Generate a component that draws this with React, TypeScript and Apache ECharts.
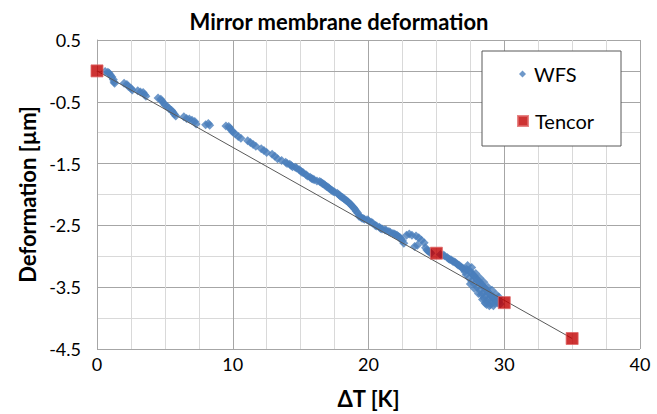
import React, { useEffect, useRef } from "react";
import * as echarts from "echarts";

const titleText = "Mirror membrane deformation";
const xName = "ΔT [K]";
const yName = "Deformation [µm]";

const wfsX = [
  0.6, 0.8, 0.9, 1.0, 1.1, 1.2, 1.25, 1.3, 2.0, 2.2, 2.3, 2.5, 2.6, 3.0, 3.2, 3.4, 3.5, 3.6,
  4.5, 4.7, 4.8, 4.9, 5.0, 5.2, 5.3, 5.5, 5.6, 5.7, 5.8, 6.4, 6.6, 6.8, 7.0, 7.2, 7.3,
  8.0, 8.2, 8.3, 9.5, 9.7, 9.8, 9.9, 10.0, 10.2, 10.4, 10.6, 11.1, 11.3, 11.5, 11.7,
  12.1, 12.3, 12.5, 12.9, 13.1, 13.3, 13.6, 13.9, 14.2, 14.4, 14.7, 15.0, 15.2, 15.4,
  15.7, 15.9, 16.2, 16.5, 16.7, 16.9, 17.1, 17.3, 17.5, 17.8, 18.0, 18.2, 18.4, 18.6,
  18.8, 19.0, 19.2, 19.3, 19.5, 19.7, 20.0, 20.3, 20.5, 20.8, 21.0, 21.3, 21.6, 21.9,
  22.1, 22.3, 22.5, 22.6, 22.8, 23.0, 23.2, 23.5, 23.7, 23.9, 24.1, 23.6, 23.4, 24.2,
  24.4, 24.6, 25.3, 25.6, 25.8, 26.0, 26.2, 26.4, 26.6, 26.8, 27.0, 27.1, 27.2, 27.3,
  27.5, 27.4, 27.6, 27.7, 27.8, 27.9, 28.0, 28.1, 28.2, 28.3, 28.4, 28.5, 28.6, 28.7,
  28.8, 28.9, 29.0, 29.1, 29.2, 29.3, 29.4, 29.5, 29.6, 29.7, 28.6, 28.9, 29.2,
  14.0, 14.3, 14.6, 14.9, 15.1, 15.5, 15.8, 16.0, 16.4, 16.6, 16.8, 17.0, 17.2, 17.4,
  17.7, 17.9, 18.1, 18.3, 18.5, 18.7, 18.9, 19.1, 19.4, 19.6, 19.9, 20.2, 20.6, 20.9,
  21.2, 21.5, 21.8, 22.0, 22.2, 22.4, 24.3, 24.5, 25.5, 25.9, 26.1, 26.3, 26.5, 26.7,
  26.9, 27.2, 27.6, 27.8, 28.0, 28.2, 28.4, 28.6, 28.8, 29.0, 29.2, 29.4, 29.6, 28.3,
  28.5, 28.7, 29.0, 29.3,
  27.3, 27.6, 27.9, 28.2, 28.5, 28.8, 29.1, 29.4, 29.6, 27.5, 27.8, 28.1, 28.4, 28.7,
];
const wfsY = [
  -0.01, -0.02, -0.04, -0.07, -0.1, -0.14, -0.18, -0.2, -0.2, -0.22, -0.25, -0.28, -0.31, -0.32, -0.34, -0.35, -0.38, -0.41,
  -0.44, -0.46, -0.49, -0.52, -0.55, -0.58, -0.61, -0.64, -0.67, -0.7, -0.73, -0.74, -0.77, -0.78, -0.8, -0.82, -0.86,
  -0.87, -0.85, -0.88, -0.89, -0.9, -0.93, -0.96, -0.99, -1.02, -1.06, -1.09, -1.13, -1.16, -1.19, -1.22,
  -1.26, -1.29, -1.32, -1.35, -1.38, -1.42, -1.45, -1.48, -1.51, -1.55, -1.57, -1.62, -1.65, -1.68,
  -1.72, -1.75, -1.78, -1.8, -1.83, -1.87, -1.9, -1.93, -1.96, -2.0, -2.04, -2.07, -2.1, -2.14,
  -2.19, -2.24, -2.3, -2.35, -2.38, -2.4, -2.42, -2.46, -2.5, -2.53, -2.56, -2.58, -2.61, -2.64,
  -2.66, -2.69, -2.75, -2.79, -2.66, -2.64, -2.66, -2.67, -2.7, -2.74, -2.78, -2.82, -2.84, -2.86,
  -2.92, -2.95, -2.97, -2.99, -3.02, -3.05, -3.08, -3.1, -3.14, -3.17, -3.2, -3.25, -3.3, -3.22,
  -3.24, -3.35, -3.4, -3.3, -3.45, -3.35, -3.5, -3.4, -3.55, -3.45, -3.6, -3.5, -3.65, -3.55,
  -3.7, -3.6, -3.72, -3.65, -3.68, -3.7, -3.72, -3.75, -3.74, -3.77, -3.76, -3.8, -3.8,
  -1.5, -1.53, -1.56, -1.6, -1.64, -1.7, -1.74, -1.76, -1.79, -1.82, -1.85, -1.88, -1.92, -1.95,
  -1.98, -2.02, -2.05, -2.09, -2.12, -2.16, -2.21, -2.27, -2.36, -2.39, -2.41, -2.45, -2.51, -2.55,
  -2.57, -2.6, -2.63, -2.65, -2.68, -2.72, -2.9, -2.93, -2.98, -3.04, -3.06, -3.09, -3.12, -3.15,
  -3.19, -3.21, -3.28, -3.32, -3.38, -3.42, -3.47, -3.52, -3.58, -3.63, -3.66, -3.69, -3.71, -3.62,
  -3.68, -3.73, -3.78, -3.76,
  -3.15, -3.18, -3.28, -3.35, -3.42, -3.5, -3.55, -3.62, -3.66, -3.45, -3.52, -3.6, -3.7, -3.78,
];

const tencorX = [0, 25, 30, 35];
const tencorY = [0, -2.95, -3.75, -4.33];

const fitX = [0, 35];
const fitY = [0, -4.33];

const FONT = "Lato, 'Open Sans', sans-serif";

export default function App() {
  const ref = useRef<HTMLDivElement>(null);

  useEffect(() => {
    if (!ref.current) return;
    const chart = echarts.init(ref.current, undefined, { renderer: "svg" });
    const wfsData = wfsX.map((x, i) => [x, wfsY[i]]);
    const tencorData = tencorX.map((x, i) => [x, tencorY[i]]);
    const fitData = fitX.map((x, i) => [x, fitY[i]]);

    chart.setOption({
      animation: false,
      backgroundColor: "#ffffff",
      title: {
        text: titleText,
        left: 334,
        textAlign: "center",
        top: 5,
        textStyle: { fontFamily: FONT, fontWeight: "bold", fontSize: 22, color: "#000" },
      },
      grid: { left: 97, right: 17, top: 40, bottom: 61, containLabel: false },
      xAxis: {
        type: "value",
        min: 0,
        max: 40,
        interval: 2.5,
        name: xName,
        nameLocation: "middle",
        nameGap: 38,
        nameTextStyle: { fontFamily: FONT, fontWeight: "bold", fontSize: 22, color: "#000" },
        axisLine: { show: true, lineStyle: { color: "#a6a6a6", width: 1 } },
        axisTick: { show: false },
        axisLabel: {
          interval: 0,
          margin: 6,
          color: "#000",
          fontFamily: FONT,
          fontSize: 18,
          formatter: (v: number) => (Math.abs(v % 10) < 1e-6 ? String(v) : ""),
        },
        splitLine: {
          show: true,
          lineStyle: { color: ["#a6a6a6", "#d9d9d9", "#d9d9d9", "#d9d9d9"], width: 1 },
        },
      },
      yAxis: {
        type: "value",
        min: -4.5,
        max: 0.5,
        interval: 0.5,
        name: yName,
        nameLocation: "middle",
        nameGap: 58,
        nameTextStyle: { fontFamily: FONT, fontWeight: "bold", fontSize: 22, color: "#000" },
        axisLine: { show: true, lineStyle: { color: "#a6a6a6", width: 1 } },
        axisTick: { show: false },
        axisLabel: {
          interval: 0,
          margin: 16,
          color: "#000",
          fontFamily: FONT,
          fontSize: 18,
          formatter: (v: number) => (Math.abs((v + 0.5) % 1) < 1e-6 ? v.toFixed(1) : ""),
        },
        splitLine: {
          show: true,
          lineStyle: { color: ["#a6a6a6", "#d9d9d9"], width: 1 },
        },
      },
      graphic: [
        {
          type: "rect",
          z: 5,
          shape: { x: 482, y: 51, width: 139, height: 95 },
          style: { fill: "#ffffff", stroke: "#595959", lineWidth: 1 },
        },
      ],
      legend: [
        {
          data: [{ name: "WFS", icon: "diamond" }],
          left: 519,
          top: 64,
          z: 10,
          padding: 0,
          itemWidth: 7,
          itemHeight: 7,
          selectedMode: false,
          textStyle: { fontFamily: FONT, fontSize: 20, color: "#000", padding: [0, 0, 0, 3] },
        },
        {
          data: [{ name: "Tencor", icon: "rect" }],
          left: 517,
          top: 111,
          z: 10,
          padding: 0,
          itemWidth: 10,
          itemHeight: 10,
          selectedMode: false,
          textStyle: { fontFamily: FONT, fontSize: 20, color: "#000", padding: [0, 0, 0, 2] },
        },
      ],
      series: [
        {
          name: "WFS",
          type: "scatter",
          data: wfsData,
          symbol: "diamond",
          symbolSize: 9,
          itemStyle: { color: "#4a7ebb" },
          z: 2,
        },
        {
          name: "fit",
          type: "line",
          data: fitData,
          symbol: "none",
          lineStyle: { color: "#595959", width: 1 },
          z: 3,
        },
        {
          name: "Tencor",
          type: "scatter",
          data: tencorData,
          symbol: "rect",
          symbolSize: 12,
          itemStyle: { color: "#c00000", borderColor: "#e06666", borderWidth: 1 },
          z: 4,
        },
      ],
    });
    return () => chart.dispose();
  }, []);

  return (
    <div
      ref={ref}
      style={{ position: "fixed", left: 0, top: 0, width: 657, height: 414 }}
    />
  );
}
